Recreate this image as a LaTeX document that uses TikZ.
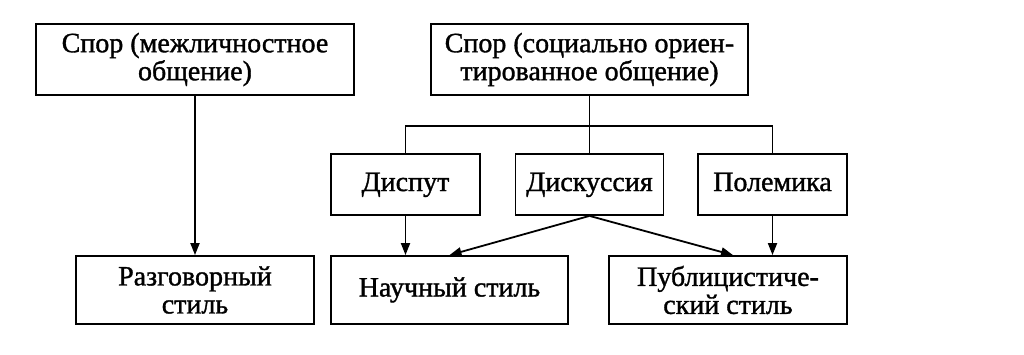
\documentclass[tikz,border=0pt]{standalone}
\usepackage{fontspec}
\setmainfont{Liberation Serif}[FakeBold=1.2]
\usetikzlibrary{arrows.meta,calc}
\begin{document}
\begin{tikzpicture}[x=0.5pt,y=-0.5pt,
  box/.style={draw,line width=0.9pt,inner sep=0pt,align=center,
    font=\fontsize{14}{14}\selectfont},
  single/.style={box,text height=9.5pt,text depth=3pt},
  link/.style={line width=0.9pt},
  arr/.style={line width=0.9pt,-{Triangle[length=6pt,width=4.5pt]}}]
\useasboundingbox (0,0) rectangle (1024,354);
\fill[white] (0,0) rectangle (1024,354);
\node[box,minimum width=159pt,minimum height=35.5pt] (a) at (195,59.5) {Спор (межличностное\\общение)};
\node[box,minimum width=158.5pt,minimum height=35.5pt] (b) at (589.5,59.5) {Спор (социально ориен-\\тированное общение)};
\node[single,minimum width=74.5pt,minimum height=30.5pt] (disp) at (405.5,184.5) {Диспут};
\node[single,minimum width=74pt,minimum height=30.5pt] (disk) at (589.5,184.5) {Дискуссия};
\node[single,minimum width=74.5pt,minimum height=30.5pt] (pol) at (772.5,184.5) {Полемика};
\node[box,minimum width=119pt,minimum height=34pt] (razg) at (195,290) {Разговорный\\стиль};
\node[single,minimum width=118.5pt,minimum height=34pt] (nauch) at (449.5,290) {Научный стиль};
\node[box,minimum width=119pt,minimum height=34pt] (publ) at (728,290) {Публицистиче-\\ский стиль};
\coordinate (bar) at (589.5,126);
\draw[link] (b.south) -- (disk.north);
\draw[link] (disp.north) -- (disp.north |- bar) -- (pol.north |- bar) -- (pol.north);
\draw[arr] (a.south) -- (razg.north);
\draw[arr] (disp.south) -- (disp.south |- nauch.north);
\draw[arr] (pol.south) -- (pol.south |- publ.north);
\draw[arr] (disk.south) -- (nauch.north);
\draw[arr] (disk.south) -- ($(publ.north)+(5,0)$);
\end{tikzpicture}
\end{document}
